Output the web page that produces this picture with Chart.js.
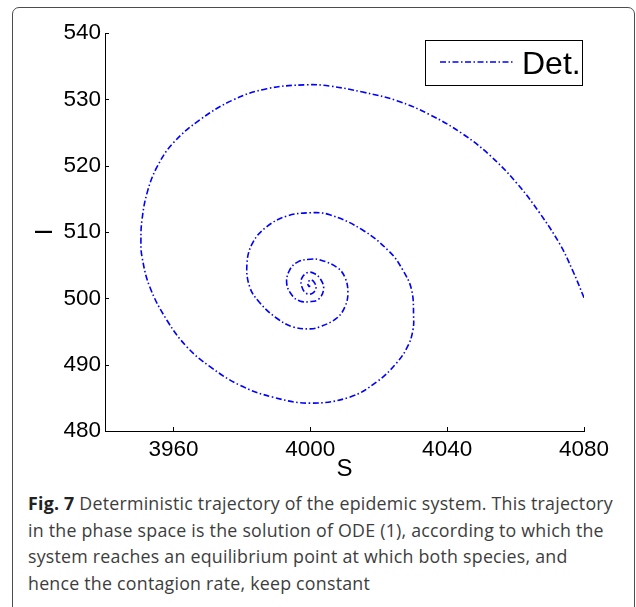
<!DOCTYPE html>
<html>
<head>
<meta charset="utf-8">
<script src="https://cdn.jsdelivr.net/npm/chart.js@4"></script>
<style>
  body { margin: 0; background: #fff; width: 636px; height: 607px; overflow: hidden; position: relative; }
  #frame { position: absolute; left: 12px; top: 7px; width: 623px; height: 640px; box-sizing: border-box;
           border: 1.5px solid #4d4d4d; border-radius: 7px; }
  #wrap { position: absolute; left: 0; top: 0; }
  #caption { position: absolute; left: 28px; top: 490px; width: 600px; font-family: "Open Sans", sans-serif;
             font-size: 17.8px; line-height: 26.5px; color: #3d3d3d; white-space: nowrap; }
  #caption b { color: #222; }
  #caption span { display: inline-block; }
</style>
</head>
<body>
<div id="frame"></div>
<div id="wrap"><canvas id="chart" width="636" height="484"></canvas></div>
<div id="caption">
  <div><span id="line1"><b>Fig. 7</b> Deterministic trajectory of the epidemic system. This trajectory</span></div>
  <div>in the phase space is the solution of ODE (1), according to which the</div>
  <div>system reaches an equilibrium point at which both species, and</div>
  <div>hence the contagion rate, keep constant</div>
</div>
<script>
// trajectory (S, I)
const trajS = [4080, 4076.6, 4072.9, 4067.0, 4060.3, 4052.4, 4044.5, 4034.9, 4025.3, 4015.3, 4005.7, 3999.0,
  3987.3, 3977.4, 3967.7, 3959.9, 3955.2, 3952.3, 3950.8, 3950.5, 3950.8, 3953.1, 3958.1, 3963.9, 3970.7,
  3979.4, 3989.1, 3999.9, 4011.5, 4019.4, 4025.3, 4028.6, 4030.0, 4030.2, 4029.6, 4027.0, 4023.2, 4015.3, 4005.7,
  4000.0, 3993.1, 3987.3, 3983.2, 3981.5, 3982.3, 3985.3, 3990.2, 3994.9, 4000.0, 4002.8, 4007.7, 4010.1,
  4011.0, 4010.1, 4007.7, 4002.8, 4000.0, 3996.4, 3994.0, 3993.1, 3994.6, 3996.9, 4000.0, 4002.5, 4003.9,
  4003.1, 4001.3, 3999.3, 3997.5, 3997.5, 3998.7, 4000.4, 4001.6, 4001.3, 4000.1, 3999.3, 3999.6, 4000.0];
const trajI = [500.1, 504.3, 508.2, 512.9, 517.4, 521.6, 524.8, 527.7, 529.8, 531.1, 532.0, 532.2,
  531.6, 529.9, 526.9, 523.4, 519.8, 515.9, 511.8, 508.8, 506.3, 501.7, 496.7, 492.7, 489.7,
  486.9, 485.1, 484.2, 485.1, 487.4, 490.3, 492.9, 495.2, 497.3, 501.3, 504.3, 507.0, 510.3, 512.6,
  512.9, 512.4, 510.8, 508.4, 505.3, 501.7, 499.3, 497.0, 495.7, 495.4, 495.7, 497.0, 498.7,
  500.8, 503.2, 504.7, 505.8, 505.9, 505.5, 504.3, 502.3, 500.5, 499.6, 499.5, 499.9, 501.4,
  502.8, 503.7, 503.9, 503.0, 501.8, 500.8, 500.7, 501.4, 502.3, 502.8, 502.3, 501.8, 501.9];
const xTicks = [3960, 4000, 4040, 4080];
const yTicks = [480, 490, 500, 510, 520, 530, 540];
const seriesLabel = 'Det.';

const points = trajS.map((s, i) => ({ x: s, y: trajI[i] }));
const dash = [6, 2.5, 1.5, 2.5];

// stretch the caption a little so its first line spans the same width as the figure's
const line1 = document.getElementById('line1');
const natural = line1.getBoundingClientRect().width;
const chars = line1.textContent.length;
document.getElementById('caption').style.letterSpacing = ((585 - natural) / chars) + 'px';

// inward tick marks like the original plot
const innerTicks = {
  id: 'innerTicks',
  afterDraw(chart) {
    const ctx = chart.ctx;
    const xs = chart.scales.x, ys = chart.scales.y;
    const area = chart.chartArea;
    ctx.save();
    ctx.strokeStyle = '#000';
    ctx.lineWidth = 1;
    ctx.beginPath();
    xTicks.forEach(v => {
      const px = Math.round(xs.getPixelForValue(v)) + 0.5;
      ctx.moveTo(px, area.bottom);
      ctx.lineTo(px, area.bottom - 4);
    });
    yTicks.forEach(v => {
      const py = Math.round(ys.getPixelForValue(v)) + 0.5;
      ctx.moveTo(area.left, py);
      ctx.lineTo(area.left + 4, py);
    });
    ctx.stroke();
    ctx.restore();
  }
};

// boxed legend in the top right corner
const boxLegend = {
  id: 'boxLegend',
  afterDraw(chart) {
    const ctx = chart.ctx;
    const ds = chart.data.datasets[0];
    ctx.save();
    ctx.fillStyle = '#fff';
    ctx.fillRect(425.5, 40.5, 157, 45);
    ctx.strokeStyle = '#000';
    ctx.lineWidth = 1;
    ctx.strokeRect(425.5, 40.5, 157, 45);
    ctx.strokeStyle = ds.borderColor;
    ctx.lineWidth = ds.borderWidth;
    ctx.setLineDash(dash);
    ctx.beginPath();
    ctx.moveTo(440, 62);
    ctx.lineTo(515, 62);
    ctx.stroke();
    ctx.setLineDash([]);
    ctx.fillStyle = '#000';
    ctx.font = '32px "Liberation Sans", Arial, sans-serif';
    ctx.textBaseline = 'alphabetic';
    ctx.fillText(ds.label, 522, 74);
    ctx.restore();
  }
};

const tickFont = { family: '"Liberation Sans", Arial, sans-serif', size: 22.5 };

new Chart(document.getElementById('chart'), {
  type: 'scatter',
  data: {
    datasets: [{
      label: seriesLabel,
      data: points,
      showLine: true,
      borderColor: '#0000ff',
      borderWidth: 1.6,
      borderDash: dash,
      pointRadius: 0,
      tension: 0.4,
      fill: false
    }]
  },
  options: {
    responsive: false,
    animation: false,
    devicePixelRatio: 1,
    layout: { padding: { top: 33, right: 52, left: 0, bottom: 0 } },
    plugins: { legend: { display: false }, tooltip: { enabled: false } },
    scales: {
      x: {
        type: 'linear',
        min: 3940,
        max: 4080,
        afterBuildTicks: s => { s.ticks = xTicks.map(v => ({ value: v })); },
        afterFit: s => { s.height = 484 - 431; },
        grid: { display: true, drawOnChartArea: false, drawTicks: false },
        border: { display: true, color: '#000', width: 1 },
        ticks: { color: '#000', font: tickFont, padding: 5, maxRotation: 0, callback: v => String(v) },
        title: { display: true, text: 'S', color: '#000',
                 font: { family: '"Liberation Sans", Arial, sans-serif', size: 24 },
                 padding: { top: 0, bottom: 0 } }
      },
      y: {
        type: 'linear',
        min: 480,
        max: 540,
        afterBuildTicks: s => { s.ticks = yTicks.map(v => ({ value: v })); },
        afterFit: s => { s.width = 105; },
        grid: { display: true, drawOnChartArea: false, drawTicks: false },
        border: { display: true, color: '#000', width: 1 },
        ticks: { color: '#000', font: tickFont, padding: 4, callback: v => String(v) },
        title: { display: true, text: 'I', color: '#000',
                 font: { family: '"Liberation Sans", Arial, sans-serif', size: 24 },
                 padding: { top: 31, bottom: 0 } }
      }
    }
  },
  plugins: [innerTicks, boxLegend]
});
</script>
</body>
</html>
